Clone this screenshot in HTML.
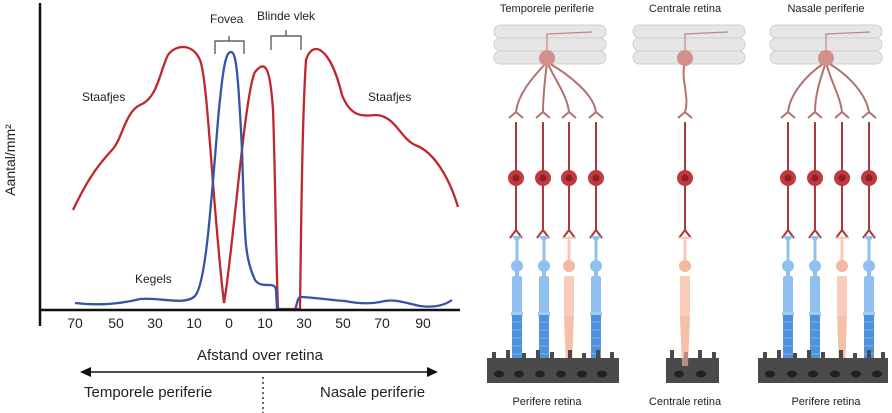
<!DOCTYPE html>
<html><head><meta charset="utf-8"><style>
html,body{margin:0;padding:0;background:#fff}
svg{display:block}
text{font-family:"Liberation Sans",sans-serif;fill:#222}
</style></head><body>
<svg width="892" height="413" viewBox="0 0 892 413" xmlns="http://www.w3.org/2000/svg">
<defs>
<g id="bip">
  <path d="M0,122 L0,230 M0,230 l-6,8 M0,230 l6,8" stroke="#a8393f" stroke-width="2" fill="none"/>
  <circle cx="0" cy="178" r="8" fill="#c0393f"/>
  <circle cx="0" cy="178" r="3.5" fill="#8e1f27"/>
</g>
<g id="rod">
  <path d="M-5,236 h10 l-3,4 h-4 z" fill="#8fc0ee"/>
  <rect x="-1.5" y="238" width="3" height="24" fill="#8fc0ee"/>
  <circle cx="0" cy="266" r="6" fill="#8fc0ee"/>
  <rect x="-2" y="270" width="4" height="8" fill="#8fc0ee"/>
  <rect x="-5" y="276" width="10" height="38" rx="2" fill="#8fc0ee"/>
  <rect x="-6" y="312" width="12" height="4" fill="#a4ccf2"/>
  <rect x="-5" y="315" width="10" height="52" fill="#4e92dc"/>
  <path d="M-5,322 h10 M-5,330 h10 M-5,338 h10 M-5,346 h10 M-5,354 h10" stroke="#7fb2ea" stroke-width="1"/>
</g>
<g id="cone">
  <path d="M-7,238 h14 M0,236 v6" stroke="#f4cbb8" stroke-width="2"/>
  <rect x="-1.5" y="240" width="3" height="22" fill="#f6c7b1"/>
  <circle cx="0" cy="266" r="6" fill="#f4b8a0"/>
  <rect x="-5" y="276" width="10" height="40" rx="2" fill="#f8cdb9"/>
  <path d="M-5,316 h10 l-2,50 h-6 z" fill="#f6c0a8"/>
</g>
<g id="gstack">
  <rect x="0" y="25" width="112" height="13" rx="6.5" fill="#e6e6e6" stroke="#cfcfcf"/>
  <rect x="0" y="38" width="112" height="13" rx="6.5" fill="#e6e6e6" stroke="#cfcfcf"/>
  <rect x="0" y="51" width="112" height="13" rx="6.5" fill="#e6e6e6" stroke="#cfcfcf"/>
</g>
</defs>

<!-- LEFT CHART -->
<line x1="40" y1="3" x2="40" y2="326" stroke="#111" stroke-width="2.5"/>
<g font-size="14" text-anchor="middle">
<text x="75" y="328">70</text><text x="116" y="328">50</text><text x="155" y="328">30</text>
<text x="194" y="328">10</text><text x="229" y="328">0</text><text x="265" y="328">10</text>
<text x="304" y="328">30</text><text x="343" y="328">50</text><text x="382" y="328">70</text>
<text x="423" y="328">90</text>
<text x="260" y="360" font-size="15">Afstand over retina</text>
</g>
<text x="15" y="160" font-size="14" text-anchor="middle" transform="rotate(-90 15 160)">Aantal/mm²</text>
<text x="82" y="101" font-size="12">Staafjes</text>
<text x="368" y="101" font-size="12">Staafjes</text>
<text x="135" y="283" font-size="12">Kegels</text>
<text x="210" y="23" font-size="12">Fovea</text>
<text x="257" y="20" font-size="12">Blinde vlek</text>
<path d="M215,54 v-13 h29 v13 M229,41 v-5" stroke="#444" fill="none" stroke-width="1.2"/>
<path d="M271,50 v-14 h30 v14 M286,36 v-6" stroke="#444" fill="none" stroke-width="1.2"/>

<path d="M73,210 C85,185 95,168 112,150 C122,140 125,112 140,105 C158,98 160,70 168,55 C175,45 192,42 200,60 C208,80 212,200 224,303 C232,260 245,90 255,72 C265,60 270,65 273,110 C275,160 276,260 278,309 L300,309 C301,240 302,120 306,60 C312,40 330,45 342,95 C350,115 360,117 375,115 C395,115 400,138 415,145 C435,152 450,180 458,207" stroke="#c0272d" stroke-width="2.3" fill="none"/>
<path d="M75,303 C100,306 120,304 140,299 C160,297 185,306 195,296 C205,285 210,220 218,120 C223,65 226,52 231,52 C236,52 238,70 242,150 C245,240 244,255 255,280 C262,290 275,280 276,290 L277,309 L295,310 C298,300 298,296 302,297 C320,298 330,300 345,301 C360,304 370,304 380,302 C395,298 405,303 420,306 C435,308 445,305 452,300" stroke="#3454a6" stroke-width="2.3" fill="none"/>
<line x1="40" y1="310" x2="460" y2="310" stroke="#111" stroke-width="2.5"/>

<path d="M88,372 H430" stroke="#111" stroke-width="1.6"/>
<path d="M80,372 l11,-5 v10 z M438,372 l-11,-5 v10 z" fill="#111"/>
<line x1="263" y1="377" x2="263" y2="413" stroke="#333" stroke-width="1.5" stroke-dasharray="2,3"/>
<text x="84" y="397" font-size="15">Temporele periferie</text>
<text x="320" y="397" font-size="15">Nasale periferie</text>

<!-- RIGHT ILLUSTRATION -->
<g font-size="11" text-anchor="middle">
<text x="547" y="12">Temporele periferie</text>
<text x="685" y="12">Centrale retina</text>
<text x="826" y="12">Nasale periferie</text>
<text x="547" y="405">Perifere retina</text>
<text x="685" y="405">Centrale retina</text>
<text x="826" y="405">Perifere retina</text>
</g>

<!-- column 1 -->
<use href="#gstack" x="494"/>
<path d="M547,55 L547,34 L592,32" stroke="#c98383" stroke-width="1.2" fill="none"/>
<g stroke="#b27272" stroke-width="2" fill="none">
<path d="M547,62 C530,80 518,95 516,112 M547,62 C545,80 543,95 543,112 M547,62 C555,80 567,95 569,112 M547,62 C570,75 594,95 596,112"/>
<path d="M516,112 l-7,6 M516,112 l7,6 M543,112 l-7,6 M543,112 l7,6 M569,112 l-7,6 M569,112 l7,6 M596,112 l-7,6 M596,112 l7,6"/>
</g>
<circle cx="547" cy="58" r="8" fill="#d38f8c"/>
<use href="#bip" x="516"/><use href="#bip" x="543"/><use href="#bip" x="569"/><use href="#bip" x="596"/>
<use href="#rod" x="517"/><use href="#rod" x="544"/><use href="#cone" x="569"/><use href="#rod" x="596"/>
<path d="M487,383 V358 h5 v-6 h4 v6 h10 v-8 h4 v8 h12 v-5 h4 v5 h10 v-8 h4 v8 h10 v-6 h4 v6 h14 v-8 h4 v8 h10 v-5 h4 v5 h10 v-8 h4 v8 h10 v-6 h4 v6 h5 V383 z" fill="#4a4a4a"/>
<g fill="#222"><ellipse cx="499" cy="374" rx="5" ry="3.5"/><ellipse cx="519" cy="374" rx="5" ry="3.5"/><ellipse cx="540" cy="374" rx="5" ry="3.5"/><ellipse cx="561" cy="374" rx="5" ry="3.5"/><ellipse cx="582" cy="374" rx="5" ry="3.5"/><ellipse cx="602" cy="374" rx="5" ry="3.5"/></g>

<!-- column 2 -->
<use href="#gstack" x="633"/>
<path d="M685,55 L685,34 L728,32" stroke="#c98383" stroke-width="1.2" fill="none"/>
<path d="M685,62 C680,80 690,95 685,112 M685,112 l-7,6 M685,112 l7,6" stroke="#b27272" stroke-width="2" fill="none"/>
<circle cx="685" cy="58" r="8" fill="#d38f8c"/>
<use href="#bip" x="685"/>
<use href="#cone" x="685"/>
<path d="M666,383 V358 h4 v-8 h4 v8 h10 v-6 h4 v6 h10 v-8 h4 v8 h10 v-6 h4 v6 h3 V383 z" fill="#4a4a4a"/>
<g fill="#222"><ellipse cx="679" cy="374" rx="5" ry="3.5"/><ellipse cx="701" cy="374" rx="5" ry="3.5"/></g>
<use href="#cone" x="685" opacity="0.6"/>

<!-- column 3 -->
<use href="#gstack" x="770"/>
<path d="M826,55 L826,34 L870,32" stroke="#c98383" stroke-width="1.2" fill="none"/>
<g stroke="#b27272" stroke-width="2" fill="none">
<path d="M826,62 C805,75 790,95 788,112 M826,62 C820,80 815,95 815,112 M826,62 C830,80 840,95 842,112 M826,62 C850,75 866,95 869,112"/>
<path d="M788,112 l-7,6 M788,112 l7,6 M815,112 l-7,6 M815,112 l7,6 M842,112 l-7,6 M842,112 l7,6 M869,112 l-7,6 M869,112 l7,6"/>
</g>
<circle cx="826" cy="58" r="8" fill="#d38f8c"/>
<use href="#bip" x="788"/><use href="#bip" x="815"/><use href="#bip" x="842"/><use href="#bip" x="869"/>
<use href="#rod" x="788"/><use href="#rod" x="815"/><use href="#cone" x="842"/><use href="#rod" x="869"/>
<path d="M758,383 V358 h5 v-6 h4 v6 h10 v-8 h4 v8 h12 v-5 h4 v5 h10 v-8 h4 v8 h10 v-6 h4 v6 h14 v-8 h4 v8 h10 v-5 h4 v5 h10 v-8 h4 v8 h10 v-6 h4 v6 h3 V383 z" fill="#4a4a4a"/>
<g fill="#222"><ellipse cx="770" cy="374" rx="5" ry="3.5"/><ellipse cx="792" cy="374" rx="5" ry="3.5"/><ellipse cx="813" cy="374" rx="5" ry="3.5"/><ellipse cx="835" cy="374" rx="5" ry="3.5"/><ellipse cx="856" cy="374" rx="5" ry="3.5"/><ellipse cx="877" cy="374" rx="5" ry="3.5"/></g>
</svg>
</body></html>
